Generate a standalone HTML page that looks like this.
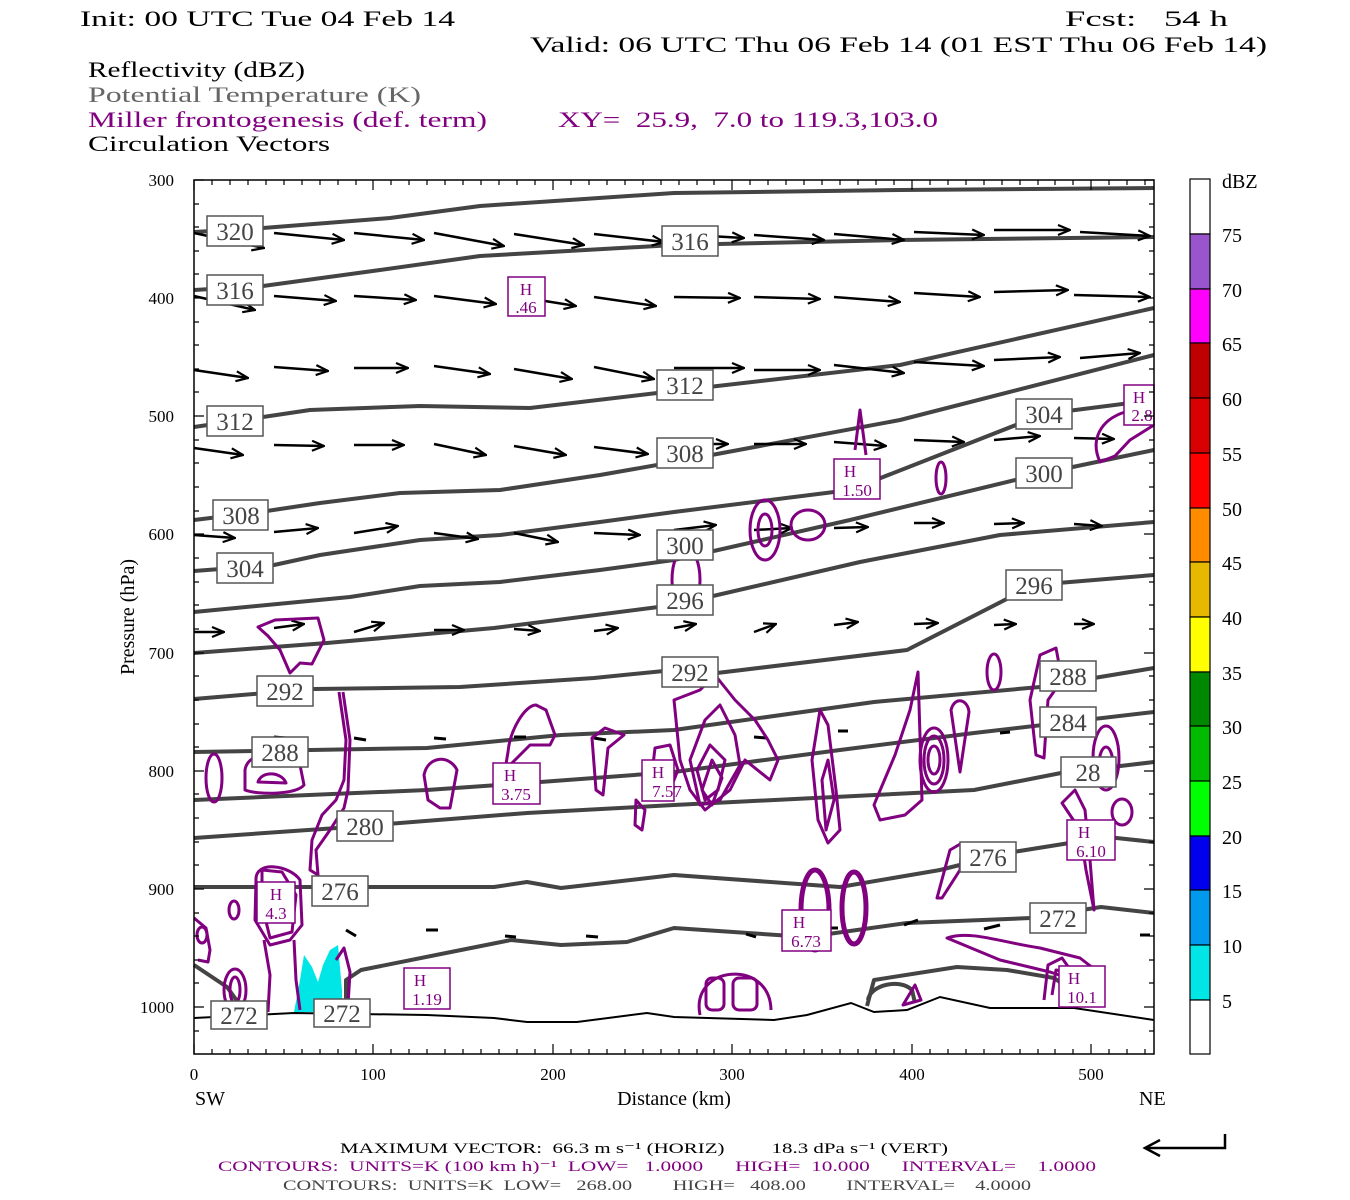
<!DOCTYPE html>
<html><head><meta charset="utf-8"><style>body{margin:0;background:#fff}svg{display:block}text{font-family:"Liberation Serif",serif;white-space:pre}</style></head><body>
<svg width="1350" height="1200" viewBox="0 0 1350 1200" xmlns="http://www.w3.org/2000/svg" xml:space="preserve">
<defs><marker id="ah" markerWidth="14" markerHeight="12" refX="13" refY="6" orient="auto" markerUnits="userSpaceOnUse"><polyline points="1,1 13,6 1,11" fill="none" stroke="#000" stroke-width="2.2"/></marker></defs>
<rect width="1350" height="1200" fill="#fff"/>
<g font-size="22" fill="#000">
<text x="80" y="26" textLength="375" lengthAdjust="spacingAndGlyphs">Init: 00 UTC Tue 04 Feb 14</text>
<text x="1065" y="26" textLength="163" lengthAdjust="spacingAndGlyphs">Fcst:   54 h</text>
<text x="530" y="52" textLength="737" lengthAdjust="spacingAndGlyphs">Valid: 06 UTC Thu 06 Feb 14 (01 EST Thu 06 Feb 14)</text>
<text x="88" y="77" textLength="217" lengthAdjust="spacingAndGlyphs">Reflectivity (dBZ)</text>
<text x="88" y="102" fill="#666" textLength="333" lengthAdjust="spacingAndGlyphs">Potential Temperature (K)</text>
<text x="88" y="127" fill="#800080" textLength="399" lengthAdjust="spacingAndGlyphs">Miller frontogenesis (def. term)</text>
<text x="558" y="127" fill="#800080" textLength="380" lengthAdjust="spacingAndGlyphs">XY=  25.9,  7.0 to 119.3,103.0</text>
<text x="88" y="151" textLength="242" lengthAdjust="spacingAndGlyphs">Circulation Vectors</text>
</g>
<polygon points="294,1012 300,980 304,955 312,967 318,982 323,965 330,950 338,945 342,990 342,1012" fill="#00e6e6"/>
<g fill="none" stroke="#444" stroke-width="4" stroke-linejoin="round">
<polyline points="194,232 263,228 390,218 480,206 674,193 900,190 1154,188"/>
<polyline points="194,290 263,286 380,270 480,256 674,245 900,240 1154,237"/>
<polyline points="194,427 263,417 310,410 420,406 530,408 674,391 900,365 1154,308"/>
<polyline points="194,520 260,512 320,503 400,493 500,490 600,475 674,462 900,420 1154,355"/>
<polyline points="194,571 274,565 320,555 420,540 500,535 600,522 674,512 850,490 1044,414 1154,400"/>
<polyline points="194,612 350,597 420,586 500,582 600,570 674,560 850,520 1044,473 1154,450"/>
<polyline points="194,653 327,643 494,628 674,605 860,562 1000,535 1154,522"/>
<polyline points="194,699 314,689 460,687 594,678 674,670 717,673 907,650 1034,585 1154,575"/>
<polyline points="194,752 427,748 561,735 674,730 874,702 1040,687 1154,668"/>
<polyline points="194,800 427,790 527,783 674,772 840,750 974,733 1154,712"/>
<polyline points="194,838 337,828 527,813 674,805 974,790 1061,773 1154,762"/>
<polyline points="194,887 494,887 527,882 561,888 674,875 840,887 940,870 1007,853 1107,837 1154,842"/>
<polyline points="346,1003 346,980 361,970 461,950 511,940 561,945 627,942 674,928 807,937 907,923 1031,918 1101,907 1154,913"/>
<polyline points="194,965 227,987 240,1005"/>
<polyline points="867,1006 874,980 957,967 1007,970 1054,978 1067,987 1074,1007"/>
<path d="M868,1000 C870,985 900,978 912,990 L915,1003"/>
</g>
<polyline fill="none" stroke="#000" stroke-width="2" points="194,1018 294,1013 427,1015 494,1018 527,1022 577,1022 647,1013 674,1017 774,1020 807,1015 851,1003 874,1012 907,1010 940,997 990,1008 1074,1008 1154,1020"/>
<g stroke="#000" stroke-width="2.5" marker-end="url(#ah)">
<line x1="194" y1="233" x2="264" y2="248"/><line x1="274" y1="233" x2="344" y2="240"/><line x1="354" y1="233" x2="424" y2="240"/><line x1="434" y1="233" x2="504" y2="246"/><line x1="514" y1="234" x2="584" y2="245"/><line x1="594" y1="234" x2="664" y2="242"/><line x1="674" y1="234" x2="744" y2="238"/><line x1="754" y1="235" x2="824" y2="240"/><line x1="834" y1="234" x2="904" y2="240"/><line x1="914" y1="232" x2="984" y2="235"/><line x1="994" y1="230" x2="1070" y2="230"/><line x1="1080" y1="232" x2="1150" y2="236"/>
<line x1="194" y1="296" x2="255" y2="310"/><line x1="274" y1="296" x2="336" y2="301"/><line x1="354" y1="296" x2="416" y2="300"/><line x1="434" y1="296" x2="496" y2="304"/><line x1="514" y1="296" x2="576" y2="306"/><line x1="594" y1="297" x2="656" y2="306"/><line x1="674" y1="297" x2="740" y2="298"/><line x1="754" y1="297" x2="820" y2="299"/><line x1="834" y1="297" x2="900" y2="302"/><line x1="914" y1="293" x2="980" y2="297"/><line x1="994" y1="292" x2="1068" y2="290"/><line x1="1074" y1="295" x2="1150" y2="297"/>
<line x1="194" y1="370" x2="248" y2="378"/><line x1="274" y1="367" x2="328" y2="371"/><line x1="354" y1="368" x2="408" y2="368"/><line x1="434" y1="366" x2="490" y2="374"/><line x1="514" y1="369" x2="572" y2="379"/><line x1="594" y1="367" x2="654" y2="379"/><line x1="674" y1="368" x2="744" y2="368"/><line x1="754" y1="370" x2="820" y2="370"/><line x1="834" y1="365" x2="904" y2="373"/><line x1="914" y1="362" x2="984" y2="366"/><line x1="994" y1="360" x2="1060" y2="357"/><line x1="1080" y1="358" x2="1140" y2="353"/>
<line x1="194" y1="448" x2="243" y2="455"/><line x1="274" y1="445" x2="324" y2="446"/><line x1="354" y1="445" x2="404" y2="445"/><line x1="434" y1="444" x2="486" y2="455"/><line x1="514" y1="446" x2="566" y2="455"/><line x1="594" y1="447" x2="648" y2="454"/><line x1="674" y1="444" x2="728" y2="444"/><line x1="754" y1="444" x2="806" y2="444"/><line x1="834" y1="442" x2="886" y2="446"/><line x1="914" y1="440" x2="964" y2="442"/><line x1="994" y1="440" x2="1040" y2="436"/><line x1="1074" y1="438" x2="1114" y2="439"/>
<line x1="194" y1="535" x2="235" y2="538"/><line x1="274" y1="532" x2="318" y2="528"/><line x1="354" y1="533" x2="398" y2="526"/><line x1="434" y1="533" x2="478" y2="539"/><line x1="514" y1="533" x2="558" y2="542"/><line x1="594" y1="533" x2="640" y2="535"/><line x1="674" y1="530" x2="716" y2="525"/><line x1="754" y1="530" x2="792" y2="528"/><line x1="834" y1="528" x2="868" y2="527"/><line x1="914" y1="523" x2="944" y2="523"/><line x1="994" y1="524" x2="1024" y2="523"/><line x1="1074" y1="524" x2="1102" y2="526"/>
<line x1="194" y1="632" x2="224" y2="632"/><line x1="274" y1="628" x2="304" y2="624"/><line x1="354" y1="632" x2="384" y2="623"/><line x1="434" y1="630" x2="464" y2="630"/><line x1="514" y1="629" x2="540" y2="631"/><line x1="594" y1="631" x2="618" y2="628"/><line x1="674" y1="628" x2="696" y2="624"/><line x1="754" y1="632" x2="776" y2="624"/><line x1="834" y1="625" x2="858" y2="622"/><line x1="914" y1="624" x2="938" y2="623"/><line x1="994" y1="625" x2="1016" y2="624"/><line x1="1074" y1="624" x2="1094" y2="624"/>
</g>
<g stroke="#000" stroke-width="3">
<line x1="274" y1="737" x2="286" y2="738"/><line x1="354" y1="738" x2="366" y2="740"/><line x1="434" y1="738" x2="446" y2="739"/><line x1="514" y1="737" x2="526" y2="737"/><line x1="594" y1="738" x2="606" y2="740"/><line x1="754" y1="737" x2="766" y2="738"/><line x1="838" y1="731" x2="848" y2="731"/><line x1="1000" y1="733" x2="1010" y2="732"/>
<line x1="346" y1="930" x2="356" y2="936"/><line x1="426" y1="930" x2="438" y2="930"/><line x1="505" y1="936" x2="516" y2="937"/><line x1="586" y1="936" x2="598" y2="937"/><line x1="746" y1="934" x2="756" y2="937"/><line x1="826" y1="928" x2="838" y2="928"/><line x1="904" y1="925" x2="918" y2="920"/><line x1="984" y1="929" x2="1000" y2="925"/><line x1="1064" y1="930" x2="1080" y2="925"/><line x1="1140" y1="935" x2="1150" y2="935"/>
</g>
<g fill="none" stroke="#800080" stroke-width="3" stroke-linejoin="round">
<path d="M258,627 L275,620 L318,618 L324,640 L312,664 L300,663 L290,673 L280,650 L268,636 Z"/>
<path d="M339,692 L346,740 L344,780 L336,800 L322,815 L312,840 L310,870 L318,875 L316,850 L330,830 L344,808 L348,790 L350,740 L343,692"/>
<path d="M245,770 C248,750 280,752 300,765 L304,785 C296,795 258,795 245,790 Z"/>
<path d="M258,782 C262,770 282,772 286,783 Z"/>
<ellipse cx="214" cy="778" rx="8" ry="24"/>
<path d="M424,775 C428,755 450,755 457,770 L450,808 L440,808 L428,800 Z"/>
<path d="M508,752 C510,730 525,705 536,705 L546,710 L555,735 L550,745 L530,745 L515,760 L505,770 Z"/>
<path d="M592,738 L605,728 L624,735 L608,748 L603,795 L596,790 Z"/>
<path d="M256,880 C255,860 290,865 300,880 L302,925 L290,940 L270,945 L255,920 Z"/>
<path d="M264,940 L270,975 L268,1012 M294,940 L296,980 L300,1010"/>
<path d="M262,870 L282,872 L296,895 L292,932 L270,938 L262,905 Z"/>
<ellipse cx="235" cy="990" rx="11" ry="21"/><ellipse cx="235" cy="990" rx="5" ry="13"/>
<path d="M194,918 L206,928 L210,950 L208,962 L198,960"/>
<ellipse cx="234" cy="910" rx="5" ry="9"/>
<ellipse cx="202" cy="935" rx="5" ry="8"/>
<path d="M336,960 L344,948 L350,972 L348,1005"/>
<path d="M674,700 L700,690 L715,675 L735,700 L755,720 L768,740 L778,760 L770,780 L745,760 L730,790 L705,810 L690,790 L680,760 Z"/>
<path d="M690,760 L705,720 L720,705 L735,735 L740,765 L720,800 L700,805 Z"/>
<path d="M697,770 L710,745 L725,760 L718,790 L705,800 Z"/>
<path d="M702,790 L712,760 L722,778 L712,805 Z"/>
<path d="M655,748 L670,745 L678,770 L666,800 L650,790 Z"/>
<path d="M636,800 L645,810 L642,830 L635,825 Z"/>
<path d="M812,760 L820,710 L828,725 L836,790 L840,830 L828,843 L818,820 Z"/>
<path d="M822,780 L828,760 L834,800 L826,830 Z"/>
<path d="M876,800 L895,755 L910,710 L918,672 L922,800 L905,815 L880,820 L874,805 Z"/>
<ellipse cx="934" cy="760" rx="14" ry="32"/><ellipse cx="934" cy="760" rx="10" ry="24"/><ellipse cx="934" cy="760" rx="6" ry="14"/>
<path d="M951,710 C955,695 968,700 969,712 L960,772 Z"/>
<ellipse cx="994" cy="672" rx="7" ry="18"/>
<path d="M1030,700 L1040,655 L1056,648 L1062,680 L1048,700 L1044,758 L1036,755 Z"/>
<ellipse cx="1106" cy="758" rx="13" ry="32"/><ellipse cx="1106" cy="765" rx="7" ry="18"/>
<ellipse cx="1122" cy="812" rx="10" ry="13"/>
<path d="M1062,803 L1075,790 L1085,810 L1090,860 L1094,910 L1086,870 L1080,830 Z"/>
<ellipse cx="815" cy="910" rx="14" ry="40" stroke-width="5"/>
<ellipse cx="854" cy="908" rx="12" ry="36" stroke-width="5"/>
<path d="M937,898 L950,850 L962,843 L960,870 L942,898 Z"/>
<path d="M947,938 C970,930 1000,942 1040,948 L1080,958 L1102,975 L1090,985 L1050,972 L1000,960 Z"/>
<path d="M1044,1000 L1048,965 L1062,958 L1074,975 L1080,1005"/><path d="M1052,995 L1056,970 L1068,972 L1072,1000"/>
<path d="M700,1015 C690,965 770,958 771,1010"/>
<rect x="706" y="978" width="18" height="32" rx="6"/><rect x="733" y="978" width="24" height="32" rx="6"/>
<path d="M903,1005 L915,985 L921,1000 Z"/>
<ellipse cx="765" cy="530" rx="15" ry="30"/><ellipse cx="765" cy="530" rx="7" ry="16"/>
<ellipse cx="808" cy="525" rx="17" ry="15"/>
<path d="M855,450 L860,410 L866,455"/>
<ellipse cx="941" cy="478" rx="5" ry="16"/>
<path d="M1125,412 C1100,420 1090,440 1100,462 L1115,456 L1130,440 L1154,425"/>
<ellipse cx="686" cy="580" rx="14" ry="32"/>
</g>
<g font-size="17" fill="#800080" text-anchor="middle">
<g fill="#fff" stroke="#800080" stroke-width="1.5">
<rect x="508" y="277" width="37" height="39"/><rect x="493" y="763" width="47" height="41"/><rect x="642" y="760" width="32" height="41"/><rect x="257" y="882" width="38" height="41"/><rect x="404" y="968" width="46" height="41"/><rect x="782" y="910" width="49" height="41"/><rect x="834" y="459" width="46" height="40"/><rect x="1124" y="385" width="30" height="40"/><rect x="1067" y="820" width="48" height="40"/><rect x="1059" y="966" width="46" height="41"/>
</g>
<text x="526" y="295">H</text><text x="526" y="313">.46</text>
<text x="510" y="781">H</text><text x="516" y="800">3.75</text>
<text x="658" y="778">H</text><text x="667" y="797">7.57</text>
<text x="276" y="900">H</text><text x="276" y="919">4.3</text>
<text x="420" y="986">H</text><text x="427" y="1005">1.19</text>
<text x="799" y="928">H</text><text x="806" y="947">6.73</text>
<text x="850" y="477">H</text><text x="857" y="496">1.50</text>
<text x="1139" y="403">H</text><text x="1142" y="421">2.8</text>
<text x="1084" y="838">H</text><text x="1091" y="857">6.10</text>
<text x="1074" y="984">H</text><text x="1082" y="1003">10.1</text>
</g>
<g font-size="25" fill="#444" text-anchor="middle">
<g fill="#fff" stroke="#555" stroke-width="1.5">
<rect x="207" y="216" width="56" height="30"/><rect x="207" y="275" width="56" height="30"/><rect x="207" y="406" width="56" height="30"/><rect x="213" y="500" width="55" height="30"/><rect x="217" y="553" width="56" height="30"/>
<rect x="662" y="226" width="56" height="30"/><rect x="657" y="370" width="56" height="30"/><rect x="657" y="438" width="56" height="30"/><rect x="657" y="530" width="56" height="30"/><rect x="657" y="585" width="56" height="30"/><rect x="662" y="657" width="56" height="30"/>
<rect x="257" y="676" width="56" height="30"/><rect x="252" y="737" width="56" height="30"/><rect x="337" y="811" width="56" height="30"/><rect x="312" y="876" width="56" height="30"/><rect x="211" y="1001" width="56" height="28"/><rect x="314" y="999" width="56" height="28"/>
<rect x="1016" y="399" width="56" height="30"/><rect x="1016" y="458" width="56" height="30"/><rect x="1006" y="570" width="56" height="30"/><rect x="1040" y="661" width="56" height="30"/><rect x="1040" y="707" width="56" height="30"/><rect x="1061" y="757" width="55" height="30"/><rect x="960" y="842" width="56" height="30"/><rect x="1030" y="903" width="56" height="30"/>
</g>
<text x="235" y="240">320</text><text x="235" y="299">316</text><text x="235" y="430">312</text><text x="241" y="524">308</text><text x="245" y="577">304</text>
<text x="690" y="250">316</text><text x="685" y="394">312</text><text x="685" y="462">308</text><text x="685" y="554">300</text><text x="685" y="609">296</text><text x="690" y="681">292</text>
<text x="285" y="700">292</text><text x="280" y="761">288</text><text x="365" y="835">280</text><text x="340" y="900">276</text><text x="239" y="1024">272</text><text x="342" y="1022">272</text>
<text x="1044" y="423">304</text><text x="1044" y="482">300</text><text x="1034" y="594">296</text><text x="1068" y="685">288</text><text x="1068" y="731">284</text><text x="1088" y="781">28</text><text x="988" y="866">276</text><text x="1058" y="927">272</text>
</g>
<rect x="194" y="180" width="960" height="874" fill="none" stroke="#000" stroke-width="1.5"/>
<g stroke="#000" stroke-width="1.2">
<path d="M194,180h10M194,298h10M194,416h10M194,534h10M194,653h10M194,771h10M194,889h10M194,1007h10M1154,180h-10M1154,298h-10M1154,416h-10M1154,534h-10M1154,653h-10M1154,771h-10M1154,889h-10M1154,1007h-10"/>
<path d="M194,1054v-10M373,1054v-10M553,1054v-10M732,1054v-10M912,1054v-10M1091,1054v-10M194,180v10M373,180v10M553,180v10M732,180v10M912,180v10M1091,180v10"/>
<path d="M194,204h5M194,227h5M194,251h5M194,274h5M194,322h5M194,345h5M194,369h5M194,392h5M194,440h5M194,463h5M194,487h5M194,511h5M194,558h5M194,582h5M194,605h5M194,629h5M194,676h5M194,700h5M194,724h5M194,747h5M194,794h5M194,818h5M194,842h5M194,865h5M194,913h5M194,936h5M194,960h5M194,983h5M194,1031h5"/>
<path d="M1154,204h-5M1154,227h-5M1154,251h-5M1154,274h-5M1154,322h-5M1154,345h-5M1154,369h-5M1154,392h-5M1154,440h-5M1154,463h-5M1154,487h-5M1154,511h-5M1154,558h-5M1154,582h-5M1154,605h-5M1154,629h-5M1154,676h-5M1154,700h-5M1154,724h-5M1154,747h-5M1154,794h-5M1154,818h-5M1154,842h-5M1154,865h-5M1154,913h-5M1154,936h-5M1154,960h-5M1154,983h-5M1154,1031h-5"/>
<path d="M212,1054v-5M230,1054v-5M248,1054v-5M266,1054v-5M284,1054v-5M302,1054v-5M320,1054v-5M338,1054v-5M356,1054v-5M391,1054v-5M409,1054v-5M427,1054v-5M445,1054v-5M463,1054v-5M481,1054v-5M499,1054v-5M517,1054v-5M535,1054v-5M571,1054v-5M589,1054v-5M607,1054v-5M625,1054v-5M643,1054v-5M661,1054v-5M679,1054v-5M697,1054v-5M714,1054v-5M750,1054v-5M768,1054v-5M786,1054v-5M804,1054v-5M822,1054v-5M840,1054v-5M858,1054v-5M876,1054v-5M894,1054v-5M930,1054v-5M948,1054v-5M966,1054v-5M984,1054v-5M1002,1054v-5M1020,1054v-5M1038,1054v-5M1055,1054v-5M1073,1054v-5M1109,1054v-5M1127,1054v-5M1145,1054v-5"/>
<path d="M212,180v5M230,180v5M248,180v5M266,180v5M284,180v5M302,180v5M320,180v5M338,180v5M356,180v5M391,180v5M409,180v5M427,180v5M445,180v5M463,180v5M481,180v5M499,180v5M517,180v5M535,180v5M571,180v5M589,180v5M607,180v5M625,180v5M643,180v5M661,180v5M679,180v5M697,180v5M714,180v5M750,180v5M768,180v5M786,180v5M804,180v5M822,180v5M840,180v5M858,180v5M876,180v5M894,180v5M930,180v5M948,180v5M966,180v5M984,180v5M1002,180v5M1020,180v5M1038,180v5M1055,180v5M1073,180v5M1109,180v5M1127,180v5M1145,180v5"/>
</g>
<g font-size="17" fill="#000">
<g text-anchor="end"><text x="174" y="186">300</text><text x="174" y="304">400</text><text x="174" y="422">500</text><text x="174" y="540">600</text><text x="174" y="659">700</text><text x="174" y="777">800</text><text x="174" y="895">900</text><text x="174" y="1013">1000</text></g>
<g text-anchor="middle"><text x="194" y="1080">0</text><text x="373" y="1080">100</text><text x="553" y="1080">200</text><text x="732" y="1080">300</text><text x="912" y="1080">400</text><text x="1091" y="1080">500</text></g>
</g>
<g font-size="20" fill="#000">
<text x="195" y="1105">SW</text><text x="1139" y="1105">NE</text>
<text x="674" y="1105" text-anchor="middle">Distance (km)</text>
<text transform="translate(134,617) rotate(-90)" text-anchor="middle">Pressure (hPa)</text>
</g>
<g stroke="#000" stroke-width="1.2">
<rect x="1190" y="179" width="20" height="55" fill="#fff"/>
<rect x="1190" y="234" width="20" height="55" fill="#9955cc"/>
<rect x="1190" y="289" width="20" height="54" fill="#ff00ff"/>
<rect x="1190" y="343" width="20" height="55" fill="#c00000"/>
<rect x="1190" y="398" width="20" height="55" fill="#d80000"/>
<rect x="1190" y="453" width="20" height="55" fill="#ff0000"/>
<rect x="1190" y="508" width="20" height="54" fill="#ff8c00"/>
<rect x="1190" y="562" width="20" height="55" fill="#e6b800"/>
<rect x="1190" y="617" width="20" height="55" fill="#ffff00"/>
<rect x="1190" y="672" width="20" height="54" fill="#008800"/>
<rect x="1190" y="726" width="20" height="55" fill="#00bb00"/>
<rect x="1190" y="781" width="20" height="55" fill="#00ff00"/>
<rect x="1190" y="836" width="20" height="54" fill="#0000ee"/>
<rect x="1190" y="890" width="20" height="55" fill="#0099ee"/>
<rect x="1190" y="945" width="20" height="55" fill="#00e6e6"/>
<rect x="1190" y="1000" width="20" height="54" fill="#fff"/>
</g>
<g font-size="20" fill="#000">
<text x="1222" y="188">dBZ</text>
<text x="1222" y="242">75</text><text x="1222" y="297">70</text><text x="1222" y="351">65</text><text x="1222" y="406">60</text><text x="1222" y="461">55</text><text x="1222" y="516">50</text><text x="1222" y="570">45</text><text x="1222" y="625">40</text><text x="1222" y="680">35</text><text x="1222" y="734">30</text><text x="1222" y="789">25</text><text x="1222" y="844">20</text><text x="1222" y="898">15</text><text x="1222" y="953">10</text><text x="1222" y="1008">5</text>
</g>
<g font-size="15">
<text x="340" y="1153" fill="#000" textLength="608" lengthAdjust="spacingAndGlyphs">MAXIMUM VECTOR:  66.3 m s⁻¹ (HORIZ)         18.3 dPa s⁻¹ (VERT)</text>
<text x="218" y="1171" fill="#800080" textLength="878" lengthAdjust="spacingAndGlyphs">CONTOURS:  UNITS=K (100 km h)⁻¹  LOW=   1.0000      HIGH=  10.000      INTERVAL=    1.0000</text>
<text x="283" y="1190" fill="#444" textLength="748" lengthAdjust="spacingAndGlyphs">CONTOURS:  UNITS=K  LOW=   268.00        HIGH=   408.00        INTERVAL=    4.0000</text>
</g>
<g stroke="#000" stroke-width="2.5" fill="none">
<polyline points="1225,1134 1225,1148 1145,1148"/>
<polyline points="1160,1140 1145,1148 1160,1156"/>
</g>
</svg>
</body></html>
